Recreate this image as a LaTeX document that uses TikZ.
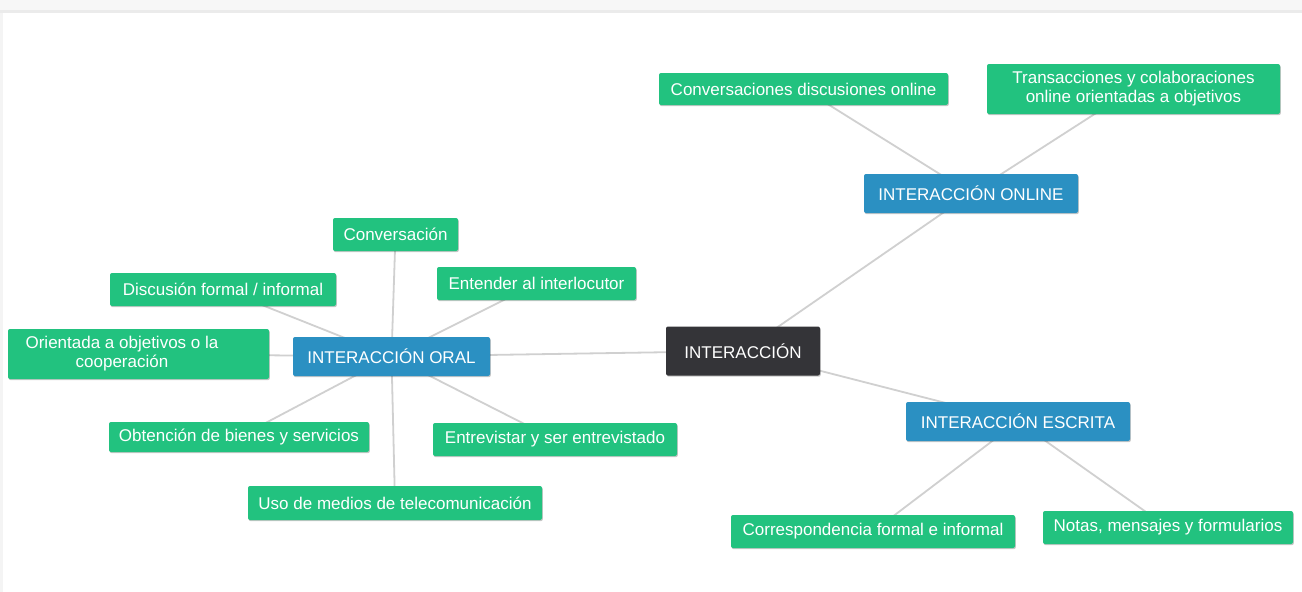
\documentclass[tikz,border=0pt]{standalone}
\usepackage{fontspec}
\setmainfont{Liberation Sans}
\usetikzlibrary{backgrounds,shadows}

\definecolor{leafgreen}{RGB}{34,194,127}
\definecolor{branchblue}{RGB}{43,144,194}
\definecolor{rootdark}{RGB}{52,52,56}
\definecolor{linkgray}{RGB}{208,208,208}

\pgfdeclarelayer{canvas}
\pgfsetlayers{canvas,background,main}

\tikzset{
  box/.style={rounded corners=2pt, text=white, inner sep=0pt, align=center,
    font=\fontsize{17}{19}\selectfont,
    drop shadow={shadow xshift=0.8pt, shadow yshift=-1.2pt, opacity=0.22, fill=black}},
  leaf/.style={box, fill=leafgreen},
  branch/.style={box, fill=branchblue},
  root/.style={box, fill=rootdark},
  link/.style={draw=linkgray, line width=1.8pt},
  sz/.style n args={2}{minimum width=#1pt, minimum height=#2pt}
}

\begin{document}
\begin{tikzpicture}[x=1pt, y=-1pt]
\useasboundingbox (0,0) rectangle (1302,592);

\begin{pgfonlayer}{canvas}
  \fill[white] (0,0) rectangle (1302,592);
  % page frame: top band and left edge
  \fill[gray!6] (0,0) rectangle (1302,10);
  \fill[gray!16] (0,10) rectangle (1302,12.5);
  \fill[gray!9] (0,12.5) rectangle (3,592);
\end{pgfonlayer}

% centre and main branches
\node[root, sz={154}{49}] (cen) at (743,351) {INTERACCIÓN};
\node[branch, sz={214}{39}] (onl) at (971,193.5) {INTERACCIÓN ONLINE};
\node[branch, sz={224}{39}] (esc) at (1018,421.5) {INTERACCIÓN ESCRITA};
\node[branch, sz={197}{39}] (ora) at (391.5,356.5) {INTERACCIÓN ORAL};

% online interaction
\node[leaf, sz={289}{32}] (disc) at (803.5,89) {Conversaciones discusiones online};
\node[leaf, sz={293}{50}] (trans) at (1133.5,89) {Transacciones y colaboraciones\\online orientadas a objetivos};

% written interaction
\node[leaf, sz={284}{33}] (corr) at (873,531.5) {Correspondencia formal e informal};
\node[leaf, sz={250}{33}] (notas) at (1168,527.5) {Notas, mensajes y formularios};

% oral interaction
\node[leaf, sz={125}{33}] (conv) at (395.5,234.5) {Conversación};
\node[leaf, sz={226}{33}] (dform) at (223,289.5) {Discusión formal / informal};
\node[leaf, sz={199}{33}] (ent) at (536.5,283.5) {Entender al interlocutor};
\node[leaf, sz={261}{50}] (orient) at (138.5,354)
  {\parbox{200pt}{\centering Orientada a objetivos o la\\cooperación}\hspace*{33pt}};
\node[leaf, sz={260}{30}] (obt) at (239,437) {Obtención de bienes y servicios};
\node[leaf, sz={244}{33}] (entr) at (555,439.5) {Entrevistar y ser entrevistado};
\node[leaf, sz={294}{34}] (uso) at (395,503) {Uso de medios de telecomunicación};

\begin{pgfonlayer}{background}
  \draw[link] (cen.center) -- (onl.center);
  \draw[link] (cen.center) -- (esc.center);
  \draw[link] (cen.center) -- (ora.center);
  \draw[link] (onl.center) -- (disc.center);
  \draw[link] (onl.center) -- (trans.center);
  \draw[link] (esc.center) -- (corr.center);
  \draw[link] (esc.center) -- (notas.center);
  \draw[link] (ora.center) -- (conv.center);
  \draw[link] (ora.center) -- (dform.center);
  \draw[link] (ora.center) -- (ent.center);
  \draw[link] (ora.center) -- (orient.center);
  \draw[link] (ora.center) -- (obt.center);
  \draw[link] (ora.center) -- (entr.center);
  \draw[link] (ora.center) -- (uso.center);
\end{pgfonlayer}
\end{tikzpicture}
\end{document}
